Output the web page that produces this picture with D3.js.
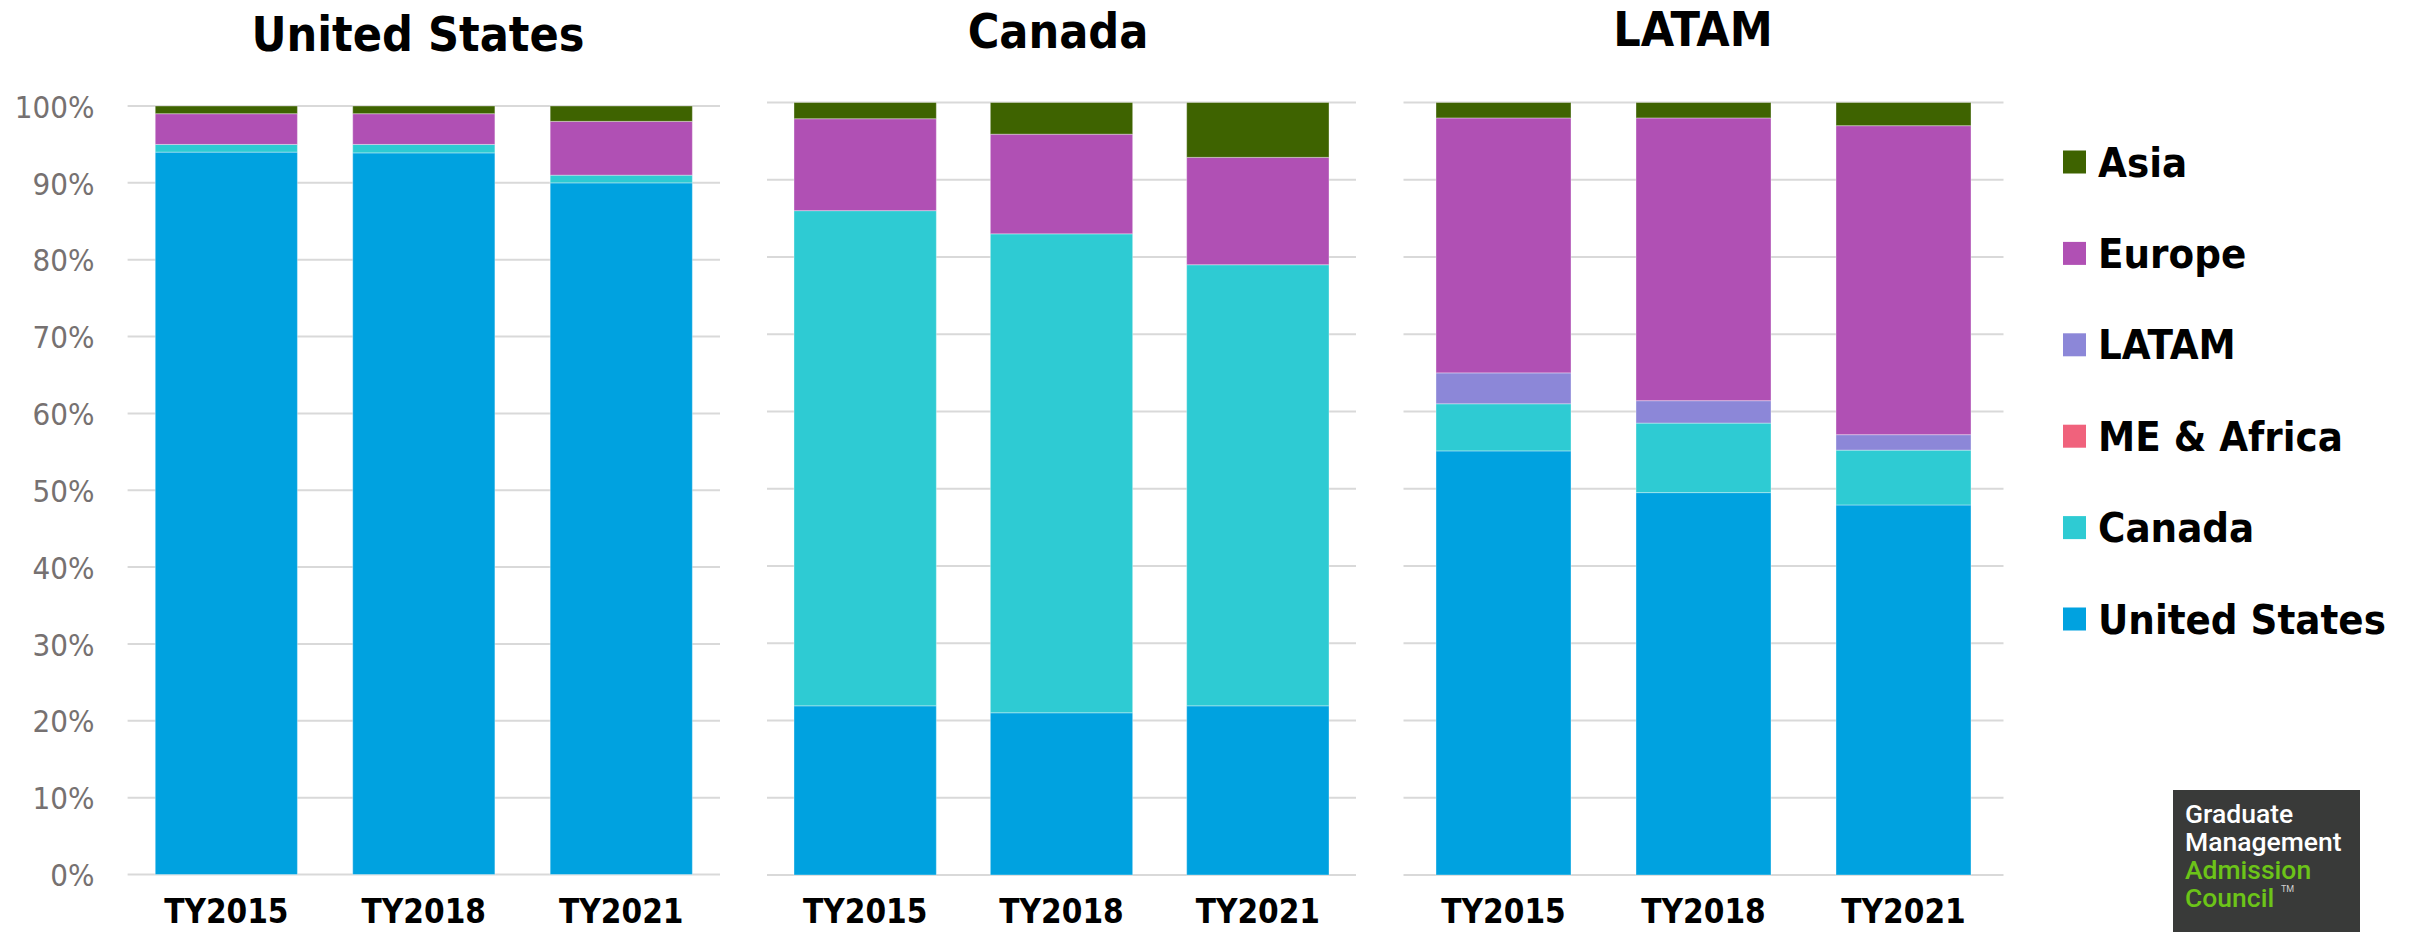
<!DOCTYPE html>
<html>
<head>
<meta charset="utf-8">
<script src="https://cdn.jsdelivr.net/npm/d3@7"></script>
<style>
  html, body { margin: 0; padding: 0; background: #ffffff; }
  svg { display: block; }
</style>
</head>
<body>
<svg id="chart" width="2409" height="932"></svg>
<script>
// Test-taker regions by school region, share of total (%)
const panelTitles = ["United States", "Canada", "LATAM"];
const years = ["TY2015", "TY2018", "TY2021"];
// stacking order, bottom to top
const regions = ["United States", "Canada", "ME & Africa", "LATAM", "Europe", "Asia"];
const regionColors = ["#00a2e0", "#2ecbd3", "#f0627c", "#8c87d8", "#b050b4", "#3e6300"];

// one row per year, values in the same order as `regions`
const sharesUS     = [[94.0, 1.0, 0, 0, 4.0, 1.0], [93.9, 1.1, 0, 0, 4.0, 1.0], [90.0, 1.0, 0, 0, 7.0, 2.0]];
const sharesCanada = [[21.9, 64.1, 0, 0, 11.9, 2.1], [21.0, 62.0, 0, 0, 12.9, 4.1], [21.9, 57.1, 0, 0, 13.9, 7.1]];
const sharesLATAM  = [[54.9, 6.1, 0, 4.0, 33.0, 2.0], [49.5, 9.0, 0, 2.9, 36.6, 2.0], [47.9, 7.1, 0, 2.0, 40.0, 3.0]];
const yTicks = [0, 10, 20, 30, 40, 50, 60, 70, 80, 90, 100];

const panelShares = [sharesUS, sharesCanada, sharesLATAM];

// panel geometry
const panelLayout = [
  { x0: 127.6, x1: 720,    top: 106,   bottom: 874.5, pad: 0.28,  titleX: 418,  titleY: 51 },
  { x0: 767,   x1: 1356,   top: 102.5, bottom: 875,   pad: 0.275, titleX: 1058, titleY: 48 },
  { x0: 1403.5, x1: 2003.5, top: 102.5, bottom: 875,  pad: 0.325, titleX: 1693, titleY: 46 }
];

const boldFont = "'DejaVu Sans Condensed', 'DejaVu Sans', sans-serif";
const svg = d3.select("#chart");
const color = d3.scaleOrdinal().domain(regions).range(regionColors);

panelTitles.forEach((title, i) => {
  const L = panelLayout[i];
  const rows = panelShares[i].map((vals, j) => {
    const o = { year: years[j] };
    regions.forEach((r, k) => { o[r] = vals[k]; });
    return o;
  });
  const series = d3.stack().keys(regions)(rows);

  const x = d3.scaleBand().domain(years).range([L.x0, L.x1])
    .paddingInner(L.pad).paddingOuter(L.pad / 2);
  const y = d3.scaleLinear().domain([0, 100]).range([L.bottom, L.top]);

  const g = svg.append("g");

  // horizontal gridlines
  g.append("g").selectAll("line").data(yTicks).join("line")
    .attr("x1", L.x0).attr("x2", L.x1)
    .attr("y1", d => y(d)).attr("y2", d => y(d))
    .attr("stroke", "#d9d9d9").attr("stroke-width", 2);

  // stacked bars
  g.append("g").selectAll("g").data(series).join("g")
    .attr("fill", d => color(d.key))
    .selectAll("rect").data(d => d).join("rect")
    .attr("x", d => x(d.data.year))
    .attr("width", x.bandwidth())
    .attr("y", d => y(d[1]))
    .attr("height", d => Math.max(0, y(d[0]) - y(d[1])))
    .attr("stroke", d => (d[1] - d[0]) > 0 ? "rgba(255,255,255,0.35)" : "none")
    .attr("stroke-width", 1);

  // category axis labels
  const xAxis = d3.axisBottom(x).tickSize(0).tickPadding(0);
  const xg = g.append("g").attr("transform", "translate(0,895)").call(xAxis);
  xg.select(".domain").remove();
  xg.selectAll("text")
    .attr("y", 28).attr("dy", 0)
    .attr("font-family", boldFont).attr("font-weight", "bold")
    .attr("font-size", 33).attr("fill", "#000");

  // value axis on the first panel only
  if (i === 0) {
    const yAxis = d3.axisLeft(y).tickValues(yTicks).tickFormat(d => d + "%")
      .tickSize(0).tickPadding(0);
    const yg = g.append("g").attr("transform", `translate(${L.x0 - 33},0)`).call(yAxis);
    yg.select(".domain").remove();
    yg.selectAll("text")
      .attr("x", 0).attr("dy", "0.36em")
      .attr("font-family", "'DejaVu Sans Condensed', 'DejaVu Sans', sans-serif")
      .attr("font-size", 31).attr("fill", "#767171");
  }

  // panel title
  g.append("text")
    .attr("x", L.titleX).attr("y", L.titleY)
    .attr("text-anchor", "middle")
    .attr("font-family", boldFont).attr("font-weight", "bold")
    .attr("font-size", 48).attr("fill", "#000")
    .text(title);
});

// legend, top entry is the top of the stack
const legendItems = regions.slice().reverse();
const legendY = d3.scalePoint().domain(legendItems).range([162, 619]);
const lg = svg.append("g");
const li = lg.selectAll("g").data(legendItems).join("g")
  .attr("transform", d => `translate(2063,${legendY(d)})`);
li.append("rect")
  .attr("x", 0).attr("y", -11.5).attr("width", 23).attr("height", 23)
  .attr("fill", d => color(d));
li.append("text")
  .attr("x", 35).attr("y", 14.5)
  .attr("font-family", boldFont).attr("font-weight", "bold")
  .attr("font-size", 41.5).attr("fill", "#000")
  .text(d => d);

// publisher mark
const logo = svg.append("g");
logo.append("rect").attr("x", 2173).attr("y", 790).attr("width", 187).attr("height", 142)
  .attr("fill", "#393a39");
const logoLines = [
  { t: "Graduate", c: "#ffffff", y: 823 },
  { t: "Management", c: "#ffffff", y: 851 },
  { t: "Admission", c: "#6cc418", y: 879 },
  { t: "Council", c: "#6cc418", y: 907 }
];
logo.selectAll("text.l").data(logoLines).join("text")
  .attr("class", "l")
  .attr("x", 2185).attr("y", d => d.y)
  .attr("font-family", "Roboto, 'Liberation Sans', sans-serif")
  .attr("font-weight", 500)
  .attr("font-size", 26.5).attr("fill", d => d.c)
  .text(d => d.t);
logo.append("text")
  .attr("x", 2281).attr("y", 892)
  .attr("font-family", "Roboto, 'Liberation Sans', sans-serif")
  .attr("font-size", 9).attr("fill", "#cfcfcf")
  .text("TM");
</script>
</body>
</html>
